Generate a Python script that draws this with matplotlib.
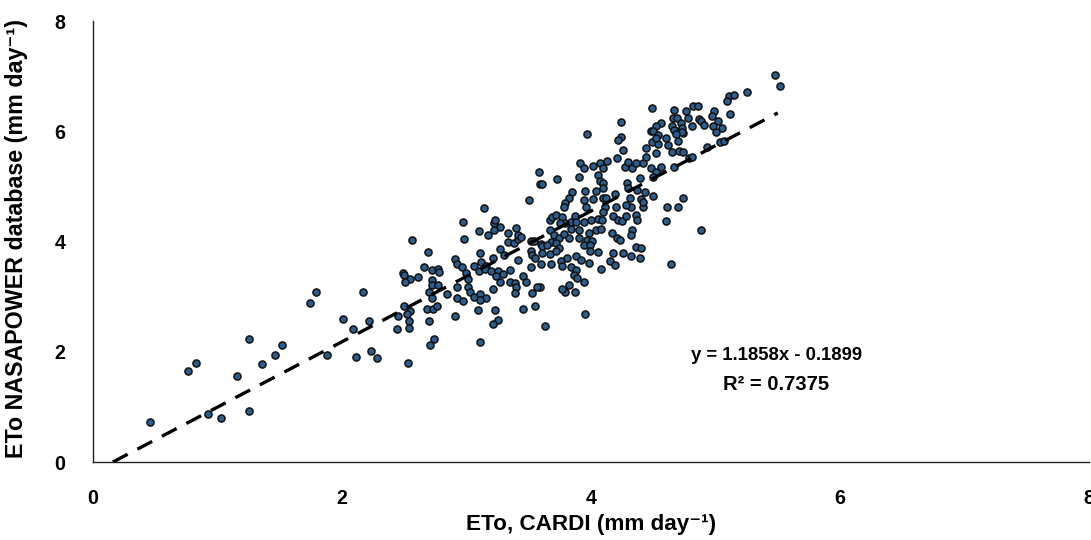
import numpy as np
import matplotlib
matplotlib.use("Agg")
import matplotlib.pyplot as plt

plt.rcParams['font.family'] = ['Liberation Sans Narrow', 'Liberation Sans', 'DejaVu Sans']
plt.rcParams['font.weight'] = 'bold'

# ETo CARDI (x) vs ETo NASAPOWER (y), mm/day
eto_cardi = [
    0.46, 0.76, 0.83, 0.92, 1.03, 1.16, 1.25, 1.25, 1.36, 1.46, 1.52, 1.74, 1.79, 1.88, 2.01, 2.09, 2.17, 2.22, 2.11, 2.23, 2.28,
    2.97, 3.22, 3.27, 3.22, 3.10, 3.17, 3.33, 3.40, 3.33, 3.38, 3.41, 2.56, 2.98, 2.69, 3.11, 3.27, 3.30, 2.91, 2.92, 2.96,
    3.06, 3.12, 3.16, 3.21, 3.41, 2.66, 2.72, 2.77, 2.78, 2.49, 2.50, 2.55, 2.61, 2.51, 2.72, 2.72, 2.77, 3.00, 3.01, 3.10,
    3.15, 3.20, 3.25, 3.29, 3.35, 3.24, 3.27, 3.35, 3.39, 3.40, 3.39, 2.92, 3.01, 3.03, 3.06, 3.11, 3.16, 3.11, 3.21, 2.70,
    2.72, 2.84, 2.92, 2.97, 2.68, 2.73, 2.76, 2.50, 2.45, 2.55, 2.52, 2.54, 2.54, 2.44, 2.70, 2.91, 3.09, 3.23, 3.25, 3.21,
    2.74, 2.71, 3.11, 2.53,
    3.58, 3.59, 3.61, 3.73, 3.90, 3.91, 3.85, 3.82, 3.79, 3.78, 3.50, 3.14,
    4.49, 4.67, 4.76, 4.66, 4.69, 4.78, 4.72, 4.24, 3.97, 4.56, 4.52, 4.48, 4.50, 4.65, 4.68, 4.74, 4.54, 4.24, 4.22, 4.60,
    4.49, 4.54, 4.62, 4.70, 4.65, 4.71, 4.74, 4.26, 4.44, 4.52, 4.21, 4.79, 3.94, 4.02, 4.07, 4.13, 4.10, 4.27, 4.30, 4.33,
    4.36, 4.42, 4.48, 4.56, 4.52, 4.06, 4.07, 4.10, 4.39, 4.29, 4.30, 3.95, 4.04, 4.10, 4.19, 4.37, 4.43, 4.50, 4.74, 3.94,
    4.02, 4.10, 4.12, 4.31, 4.40, 4.11, 4.20, 4.32, 4.42, 4.61, 4.70, 3.96, 4.28,
    3.23, 3.41, 3.44, 3.52, 3.54, 3.60, 3.61, 3.67, 3.69, 3.72, 3.77, 3.87, 3.84, 3.79, 3.75, 3.88, 3.84, 3.90, 3.67, 3.70,
    3.74, 3.78, 3.82, 3.90, 3.68, 3.72, 3.65, 3.74, 3.61, 3.67, 3.72, 3.52, 3.53, 3.55, 3.60, 3.52, 3.68, 3.76, 3.77, 3.81,
    3.88, 3.84, 3.88, 3.86, 3.89, 3.82, 3.87, 3.79, 3.59, 3.57, 3.53,
    4.10, 4.00, 4.06, 4.09, 3.94, 4.18, 4.22, 4.25, 4.28, 4.36, 4.37, 4.60, 4.04, 4.08, 3.98, 4.33, 4.32, 4.17, 4.21, 4.23,
    3.97, 4.01, 3.94, 3.99, 3.99, 4.06, 4.18, 4.26, 4.32, 4.36, 4.40, 4.39, 3.92, 3.98, 4.15, 4.19, 4.08, 3.94, 4.64,
    5.48, 5.52, 5.25, 5.11, 5.15, 5.09, 5.12, 4.82, 4.86, 4.99, 4.87, 4.88, 4.91, 4.97, 5.02, 4.98, 5.05, 5.00, 4.81, 4.73,
    4.73, 4.67, 4.68, 4.52, 4.93, 5.04, 5.07, 4.81, 4.67, 4.44, 4.50,
    4.42, 4.88,
    3.45, 3.55, 3.63, 3.95, 3.45, 3.48, 3.77,
]
eto_nasapower = [
    0.73, 1.65, 1.80, 0.87, 0.80, 1.56, 2.23, 0.93, 1.77, 1.94, 2.12, 2.88, 3.09, 1.95, 2.60, 2.42, 3.09, 2.55, 1.91, 2.01, 1.89,
    4.36, 4.34, 4.27, 4.21, 4.19, 4.12, 4.15, 4.24, 4.00, 3.97, 4.04, 4.03, 4.04, 3.81, 3.80, 3.87, 3.76, 3.68, 3.59, 3.53,
    3.56, 3.62, 3.56, 3.70, 3.67, 3.53, 3.48, 3.51, 3.44, 3.43, 3.39, 3.32, 3.35, 3.26, 3.31, 3.22, 3.22, 3.42, 3.32, 3.47,
    3.50, 3.47, 3.47, 3.41, 3.48, 3.38, 3.26, 3.26, 3.24, 3.18, 3.07, 3.18, 3.18, 3.09, 3.00, 3.05, 2.98, 2.94, 3.13, 3.09,
    2.97, 3.04, 2.97, 2.93, 2.77, 2.77, 2.83, 2.83, 2.64, 2.74, 2.68, 2.55, 2.44, 2.41, 2.55, 2.64, 2.75, 2.76, 2.58, 2.50,
    2.24, 2.12, 2.18, 1.79,
    5.27, 5.05, 5.05, 5.13, 5.17, 5.42, 4.89, 4.79, 4.70, 4.62, 4.75, 4.60,
    6.42, 6.39, 6.36, 6.24, 6.24, 6.24, 6.15, 6.16, 5.95, 6.15, 6.09, 6.01, 6.01, 6.10, 6.01, 5.97, 5.93, 5.90, 5.84, 5.87,
    5.81, 5.77, 5.75, 5.83, 5.63, 5.65, 5.63, 5.66, 5.69, 5.61, 5.51, 5.51, 5.33, 5.37, 5.42, 5.46, 5.33, 5.36, 5.44, 5.33,
    5.42, 5.43, 5.34, 5.36, 5.27, 5.21, 5.09, 5.06, 5.15, 5.07, 4.97, 4.92, 4.92, 4.97, 4.86, 4.94, 4.89, 4.83, 4.79, 4.76,
    4.77, 4.79, 4.79, 4.79, 4.77, 4.63, 4.63, 4.63, 4.63, 4.63, 4.63, 4.63, 4.66,
    4.39, 4.12, 4.09, 4.01, 4.01, 3.95, 3.91, 4.39, 4.45, 4.48, 4.45, 4.47, 4.35, 4.33, 4.33, 4.36, 4.23, 4.21, 4.21, 4.12,
    4.07, 4.13, 4.06, 4.06, 4.00, 3.97, 3.93, 3.88, 3.79, 3.77, 3.82, 3.82, 3.76, 3.70, 3.59, 3.54, 3.59, 3.64, 3.56, 3.70,
    3.73, 3.53, 3.49, 3.39, 3.33, 3.21, 3.08, 3.08, 3.18, 3.18, 3.06,
    4.53, 4.39, 4.41, 4.39, 4.35, 4.46, 4.39, 4.37, 4.47, 4.48, 4.39, 4.38, 4.21, 4.22, 4.15, 4.21, 4.12, 4.15, 4.06, 4.03,
    4.03, 4.01, 3.94, 3.94, 3.83, 3.81, 3.80, 3.80, 3.74, 3.90, 3.89, 3.70, 3.67, 3.61, 3.64, 3.58, 3.51, 3.26, 3.59,
    7.02, 6.82, 6.72, 6.64, 6.65, 6.55, 6.32, 6.46, 6.45, 6.36, 6.22, 6.18, 6.12, 6.27, 6.19, 6.10, 6.06, 5.98, 6.09, 6.06,
    5.98, 6.03, 5.95, 5.87, 5.71, 5.81, 5.83, 5.53, 5.36, 5.54, 5.17,
    4.72, 4.21,
    2.77, 2.83, 2.46, 2.68, 3.38, 3.27, 3.13,
]

# Linear trendline shown on the chart
slope = 1.1858
intercept = -0.1899
r_squared = 0.7375
trend_x = [0.16, 5.5]

x_ticks = [0, 2, 4, 6, 8]
y_ticks = [0, 2, 4, 6, 8]

W, H = 1091, 540
fig = plt.figure(figsize=(W / 100, H / 100), dpi=100)
ax = fig.add_axes([0.0852, 0.1444, 0.9130, 0.8167])

ax.scatter(eto_cardi, eto_nasapower, s=26, c='#2B5D8C', edgecolors='#111111',
           linewidths=1.1, zorder=3)

tx = np.array(trend_x)
ax.plot(tx, slope * tx + intercept, color='black', linewidth=2.4,
        linestyle=(0, (5, 3.3)), zorder=4, solid_capstyle='butt')

ax.set_xlim(0, 8)
ax.set_ylim(0, 8)
ax.set_xticks(x_ticks)
ax.set_yticks(y_ticks)
ax.set_xticklabels([str(t) for t in x_ticks])
ax.set_yticklabels([str(t) for t in y_ticks])
ax.tick_params(axis='x', length=0, pad=26, labelsize=14, colors='black')
ax.tick_params(axis='y', length=0, pad=20, labelsize=14, colors='black')
for lab in ax.get_xticklabels():
    lab.set_fontweight('bold')
    lab.set_va('center')
for lab in ax.get_yticklabels():
    lab.set_fontweight('bold')

for s in ['top', 'right']:
    ax.spines[s].set_visible(False)
for s in ['left', 'bottom']:
    ax.spines[s].set_color('#222222')
    ax.spines[s].set_linewidth(1.0)

xl = ax.set_xlabel('ETo, CARDI (mm day\u207b\u00b9)', fontsize=18, fontweight='bold')
yl = ax.set_ylabel('ETo NASAPOWER database (mm day\u207b\u00b9)', fontsize=18, fontweight='bold')
xl.set_va('center'); xl.set_ha('center')
yl.set_va('center'); yl.set_ha('center')
ax.xaxis.set_label_coords(0.5, (462 - 524) / (0.8167 * H))
ax.yaxis.set_label_coords((17 - 93) / (0.9130 * W), 0.507)

eq = ax.text(5.49, 1.94, f'y = {slope}x - {abs(intercept)}', ha='center', va='center',
             fontsize=14, fontweight='bold')
r2 = ax.text(5.49, 1.40, f'R\u00b2 = {r_squared}', ha='center', va='center',
             fontsize=14, fontweight='bold')

# scale text sizes so their extents match the reference layout
fig.canvas.draw()
rend = fig.canvas.get_renderer()

def fit(t, target, vertical=False):
    bb = t.get_window_extent(rend)
    cur = bb.height if vertical else bb.width
    t.set_fontsize(t.get_fontsize() * target / cur)

fit(xl, 250)
fit(yl, 440, vertical=True)
fit(eq, 172)
fit(r2, 106)
tick_ref = ax.get_xticklabels()[2]
bb = tick_ref.get_window_extent(rend)
new_ts = tick_ref.get_fontsize() * 11.0 / bb.width
ax.tick_params(axis='both', labelsize=new_ts)

fig.savefig('out.png', dpi=100)
